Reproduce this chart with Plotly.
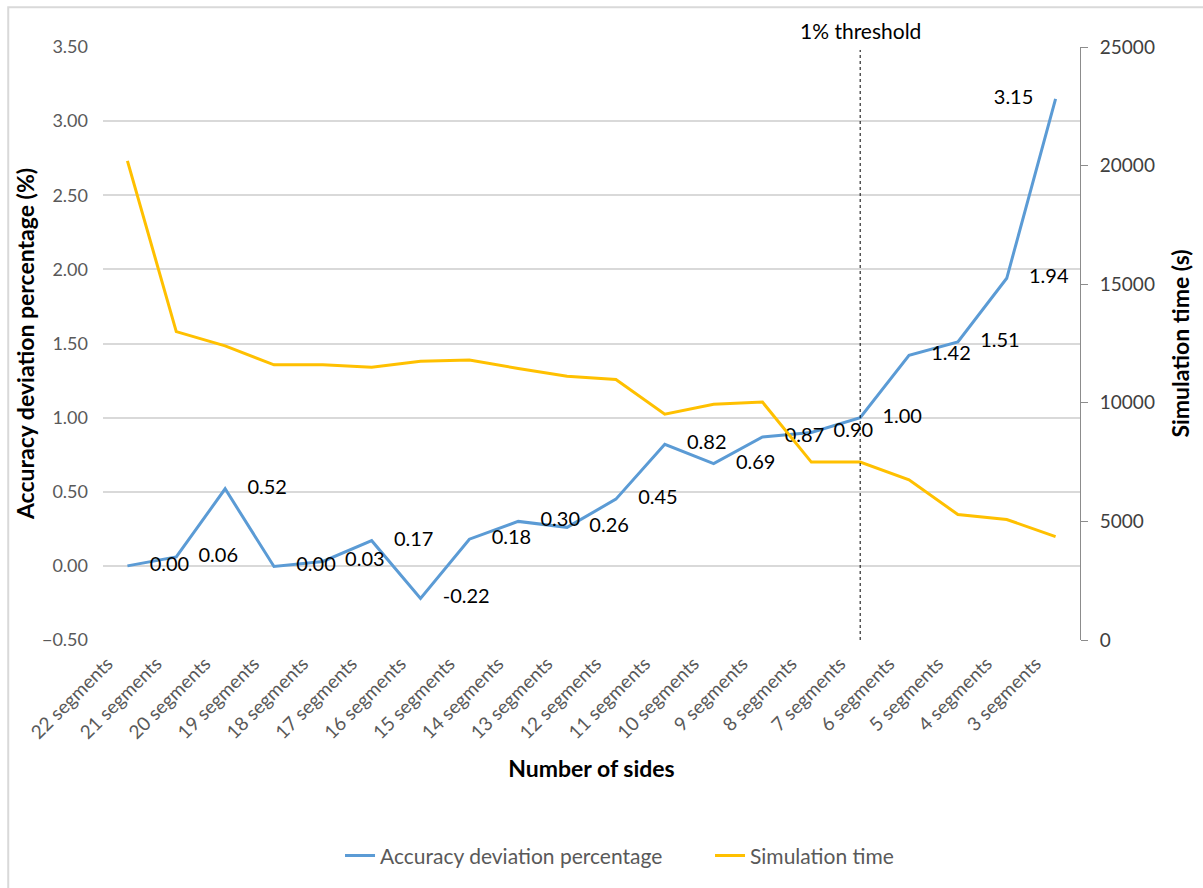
import plotly.graph_objects as go

categories = ["22 segments", "21 segments", "20 segments", "19 segments", "18 segments",
              "17 segments", "16 segments", "15 segments", "14 segments", "13 segments",
              "12 segments", "11 segments", "10 segments", "9 segments", "8 segments",
              "7 segments", "6 segments", "5 segments", "4 segments", "3 segments"]
accuracy = [0.00, 0.06, 0.52, -0.004, 0.03, 0.17, -0.22, 0.18, 0.30, 0.26,
            0.45, 0.82, 0.69, 0.87, 0.90, 1.00, 1.42, 1.51, 1.94, 3.15]
sim_time = [20200, 13000, 12400, 11600, 11600, 11500, 11750, 11800, 11450, 11120,
            10980, 9520, 9940, 10030, 7500, 7500, 6750, 5290, 5080, 4360]
threshold_cat = "7 segments"
threshold_label = "1% threshold"

BLUE = "#5B9BD5"
GOLD = "#FFC000"
FONT = "Lato"

labels = [f"{v:.2f}".replace("-0.00", "0.00") for v in accuracy]
label_pos = ["middle right"] * (len(accuracy) - 1) + ["middle left"]

fig = go.Figure()
fig.add_trace(go.Scatter(
    x=categories, y=accuracy, name="Accuracy deviation percentage",
    mode="lines+markers+text", line=dict(color=BLUE, width=3),
    marker=dict(size=34, color="rgba(0,0,0,0)"),
    text=labels,
    textposition=label_pos, textfont=dict(family=FONT, size=20, color="#000000"),
    cliponaxis=False, yaxis="y"))
fig.add_trace(go.Scatter(
    x=categories, y=sim_time, name="Simulation time",
    mode="lines", line=dict(color=GOLD, width=3), yaxis="y2"))

fig.add_shape(type="line", xref="x", yref="y", x0=threshold_cat, x1=threshold_cat,
              y0=-0.5, y1=3.48, line=dict(color="#000000", width=1, dash="dot"))
fig.add_annotation(x=threshold_cat, xref="x", y=1.0, yref="paper", yanchor="bottom",
                   text=threshold_label, showarrow=False, yshift=2,
                   font=dict(family=FONT, size=21, color="#000000"))
# chart area border
fig.add_shape(type="rect", xref="paper", yref="paper", x0=-0.097, x1=1.2, y0=-0.5, y1=1.067,
              line=dict(color="#D9D9D9", width=2), layer="below")

fig.update_layout(
    width=1203, height=888,
    margin=dict(l=103, r=123, t=47, b=245),
    paper_bgcolor="white", plot_bgcolor="white",
    font=dict(family=FONT, size=18, color="#595959"),
    xaxis=dict(type="category", range=[-0.5, 19.5], tickangle=-45,
               showgrid=False, showline=False, ticks="",
               ticklabelstandoff=8, ticklabelshift=-20,
               tickfont=dict(family=FONT, size=19, color="#595959"),
               title=dict(text="<b>Number of sides</b>", standoff=18,
                          font=dict(family=FONT, size=23, color="#000000"))),
    yaxis=dict(range=[-0.5, 3.5], dtick=0.5, tickformat=".2f",
               showgrid=True, gridcolor="#D9D9D9", gridwidth=1.5,
               zeroline=False, showline=False, ticks="", ticklabelstandoff=14,
               tickfont=dict(family=FONT, size=18, color="#595959"),
               title=dict(text="<b>Accuracy deviation percentage (%)</b>", standoff=0,
                          font=dict(family=FONT, size=23, color="#000000"))),
    yaxis2=dict(range=[0, 25000], dtick=5000, tickformat="d", overlaying="y", side="right",
                showgrid=False, zeroline=False, showline=True, linecolor="#8C8C8C",
                linewidth=1, ticks="outside", ticklen=7, tickcolor="#8C8C8C",
                ticklabelstandoff=8,
                tickfont=dict(family=FONT, size=19, color="#404040"),
                title=dict(text="<b>Simulation time (s)</b>", standoff=18,
                           font=dict(family=FONT, size=23, color="#000000"))),
    legend=dict(orientation="h", x=0.2426, xanchor="left", y=-0.364, yanchor="middle",
                entrywidth=325, entrywidthmode="pixels",
                font=dict(family=FONT, size=21, color="#595959")),
    showlegend=True,
)

fig.write_html("out.html")
